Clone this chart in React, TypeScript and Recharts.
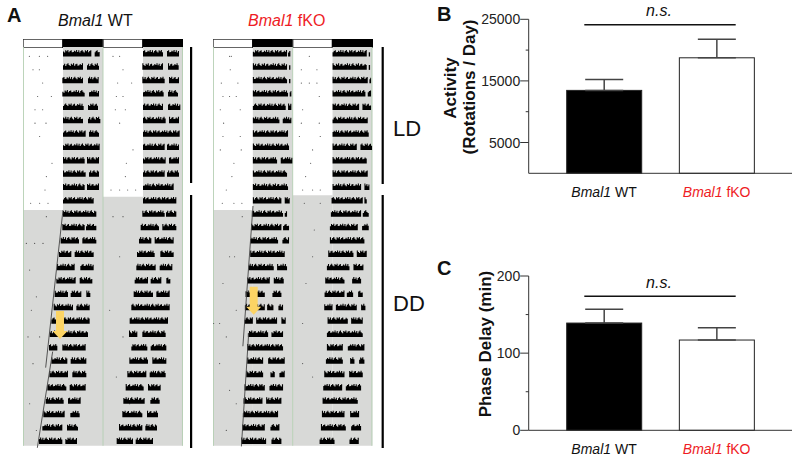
import {
  Bar,
  BarChart,
  ComposedChart,
  ErrorBar,
  ReferenceArea,
  ReferenceDot,
  ReferenceLine,
  XAxis,
  YAxis,
} from "recharts";

const FONT = "'Liberation Sans', Arial, sans-serif";
const RED = "#ee1c25";
const GREY = "#d8d9d7";
const ROWS = 30;
const GREY_END = 29.85;

const genotypes = ["Bmal1 WT", "Bmal1 fKO"];

const activityMeans = [13460, 18750];
const activityErrors = [1780, 3020];
const activityTicks = [5000, 10000, 15000, 20000, 25000];
const activityLabelled = [5000, 15000, 25000];

const delayMeans = [139, 117];
const delayErrors = [18, 16];
const delayTicks = [0, 50, 100, 150, 200];
const delayLabelled = [0, 100, 200];

// one entry per day: on, off, on, off... in hours. The plot is double plotted,
// so a day is drawn in the left half of its row and the right half of the row above
const wtDays = [
  [12, 20.5, 21.5, 23],
  [12, 18, 19.2, 22.8],
  [11.8, 18, 19.5, 22.7],
  [11.8, 18.5, 19.8, 22.8],
  [12, 18.2, 19.5, 22.5],
  [12, 18, 19.5, 23.2],
  [12, 18.8, 19.8, 22.8],
  [12, 23],
  [12, 18.5, 19.2, 22.8],
  [12, 18.8, 19.8, 22.8],
  [12, 18.5, 19.2, 22.8],
  [12, 21.2],
  [12, 22],
  [11.8, 18.5, 18.9, 22],
  [11.3, 16.8, 17.8, 22],
  [10.8, 14.5, 15.5, 21.2],
  [10.2, 15.5, 17.2, 21.2],
  [10, 15.8, 17, 20.8],
  [9.5, 13.5, 14.3, 17.5, 19, 20.2],
  [9.2, 15, 16, 20],
  [8.5, 20],
  [8, 19.5],
  [7.8, 10.3, 11.8, 18.8],
  [8.5, 13.3, 14.3, 19],
  [7.9, 13.5, 14.8, 19],
  [7.3, 13, 14, 18.8],
  [6.8, 12.2, 13.5, 17.3],
  [6.1, 12.5, 14.2, 17],
  [5.8, 11.8, 13.2, 16.5],
  [4.8, 11.8, 12.7, 16.2],
  [4.1, 9, 9.8, 15],
];

const fkoDays = [
  [12, 22.3, 22.6, 23.3],
  [12, 22.3, 22.9, 23.3],
  [12, 22.3, 22.9, 23.3],
  [12, 22.6, 23.1, 23.6],
  [12, 21.9, 22.6, 23.6],
  [12, 20, 21, 23.6],
  [12, 22.6],
  [12, 22.9],
  [12, 19.3, 20.4, 23.9],
  [12, 22.3],
  [12, 22.6],
  [12, 20.6, 21.6, 23.1],
  [11.7, 21.1, 21.6, 22.3],
  [11.5, 20.6, 21.1, 22.9],
  [11.2, 19.6, 20.9, 22.9],
  [11.2, 21.6],
  [10.7, 18.3, 19.3, 22.3],
  [10.3, 17.1, 18.3, 21.3],
  [9.8, 15.6, 17.9, 20.6],
  [9.6, 15.6, 16.3, 18.2, 19.7, 21.1],
  [9.5, 12, 13, 19.3, 20.6, 21.9],
  [10.5, 16.6, 17.6, 21.1],
  [10.3, 21.1],
  [10.3, 15.1, 16.6, 21.6],
  [10, 15.1, 17.3, 18.6, 20, 21.6],
  [9.5, 15.6, 17, 21.1],
  [9.2, 14.9, 16, 20.6],
  [9, 19.6],
  [8.8, 15.6, 17.3, 20],
  [8.5, 16, 17.6, 20.6],
  [8.1, 12.6, 17.1, 19.9],
];

// stray wheel counts: [hour, row]
const wtSpecks = [
  [1.9, 0.7], [4.9, 0.7], [7.4, 0.7], [27, 0.7], [29, 0.7],
  [3, 1.7], [4.9, 1.7], [30, 1.7], [5.9, 2.7], [28.4, 2.7], [32.6, 2.7],
  [4.4, 3.7], [8.5, 3.7], [28, 3.7], [30, 3.7], [3.6, 4.7], [5.9, 4.7], [27.7, 4.7], [30.7, 4.7],
  [3.6, 5.7], [6.9, 5.7], [29, 5.7], [5, 6.7], [33, 7.7], [8.7, 8.7], [31, 8.7],
  [7, 9.7], [30.7, 9.7], [6.6, 10.7], [26.4, 10.7], [29, 10.7], [31.4, 10.7], [33.8, 10.7],
  [2.3, 11.7], [5, 11.7], [7.5, 11.7], [7, 12.7], [27, 12.7], [30, 12.7],
  [1, 14.7], [3.5, 14.7], [6, 14.7], [2, 16.7], [29, 15.7], [4, 18.7], [2.5, 19.7], [26, 19.7],
  [1.5, 21.7], [5, 21.7], [30, 21.7], [3, 23.7], [28, 24.7], [2, 26.7], [32, 26.7], [4, 28.7],
];

const fkoSpecks = [
  [5, 0.7], [5.5, 0.7], [29, 0.7], [5.2, 1.7], [26.6, 1.7], [31.3, 1.7],
  [2.5, 2.7], [7.5, 2.7], [26.6, 2.7], [29, 2.7], [31.3, 2.7], [3, 3.7], [5, 3.7], [7, 3.7], [32, 3.7],
  [2.2, 4.7], [8.2, 4.7], [27, 4.7], [3.2, 5.7], [26.6, 5.7], [32, 5.7],
  [3, 6.7], [8.2, 6.7], [26, 6.7], [32.3, 6.7], [2.2, 7.7], [8.5, 7.7], [30, 7.7],
  [6.3, 8.7], [29.4, 8.7], [5.7, 9.7], [27.9, 9.7], [4, 10.7], [27, 10.7], [30, 10.7], [32.3, 10.7],
  [2.8, 11.7], [6.3, 11.7], [8.7, 11.7], [27.5, 11.7], [32.3, 11.7], [8.8, 12.7], [30.5, 13.7],
  [5, 15.7], [6.5, 15.7], [30, 15.7], [3, 17.7], [28, 17.7], [7, 19.7], [0.2, 20.7], [2, 20.7],
  [27, 20.7], [4, 21.7], [2, 23.7], [27, 23.7], [30, 24.7], [5, 25.7], [7, 26.7], [4, 28.7],
];

// heights of the activity trace, wrapped along each bout
const traceHeights = [0.7, 0.9, 0.75, 1, 0.7, 0.95, 0.6, 0.85, 1, 0.75, 0.6, 0.95, 0.8, 1, 0.65, 0.85, 0.95, 0.65];

const PART_KEYS = Array.from({ length: 12 }, (_, i) => `p${i}`);

function buildRows(days: number[][]) {
  return Array.from({ length: ROWS }, (_, row) => {
    const edges = [...days[row], ...days[row + 1].map((h) => h + 24)];
    const entry: Record<string, number | string> = { row: `r${row}` };
    let last = 0;
    PART_KEYS.forEach((key, i) => {
      const edge = edges[i];
      entry[key] = edge === undefined ? 0 : edge - last;
      if (edge !== undefined) last = edge;
    });
    return entry;
  });
}

const ActivityBout = ({ x, y, width, height }: any) => {
  if (!width || width <= 0) return null;
  const count = Math.max(1, Math.round(width / 1.1));
  const start = Math.round(x * 3 + y * 5);
  let d = `M${x},${y + height}`;
  for (let i = 0; i < count; i++) {
    const h = height * traceHeights[(start + i) % traceHeights.length];
    const px = x + (i * width) / count;
    d += `L${px},${y + height - h}L${px + width / count},${y + height - h}`;
  }
  d += `L${x + width},${y + height}Z`;
  return <path d={d} fill="#000" />;
};

const DownArrow = ({ cx, cy }: any) => (
  <polygon
    points={`${cx - 4},${cy - 22} ${cx + 4},${cy - 22} ${cx + 4},${cy - 2} ${cx + 7.5},${cy - 2} ${cx},${cy + 6} ${cx - 7.5},${cy - 2} ${cx - 4},${cy - 2}`}
    fill="#fcd464"
  />
);

function LightBar({ left, width }: { left: number; width: number }) {
  const data = [{ name: "schedule", a: 12, b: 12, c: 12, d: 12 }];
  return (
    <div style={{ position: "absolute", left, top: 38.5 }}>
      <BarChart
        width={width}
        height={9}
        data={data}
        layout="vertical"
        margin={{ top: 0, right: 0, bottom: 0, left: 0 }}
        barCategoryGap={0}
      >
        <XAxis type="number" domain={[0, 48]} hide />
        <YAxis type="category" dataKey="name" hide />
        <Bar dataKey="a" stackId="s" fill="#fff" stroke="#333" strokeWidth={1.4} isAnimationActive={false} />
        <Bar dataKey="b" stackId="s" fill="#000" stroke="#000" strokeWidth={1.4} isAnimationActive={false} />
        <Bar dataKey="c" stackId="s" fill="#fff" stroke="#333" strokeWidth={1.4} isAnimationActive={false} />
        <Bar dataKey="d" stackId="s" fill="#000" stroke="#000" strokeWidth={1.4} isAnimationActive={false} />
      </BarChart>
    </div>
  );
}

// the hour / row coordinate frame, used for everything that is not an activity bout
function HourFrame({ left, width, children }: any) {
  return (
    <div style={{ position: "absolute", left, top: 47 }}>
      <ComposedChart width={width} height={400.8} data={[{ h: 0, r: 0 }]} margin={{ top: 0, right: 0, bottom: 0, left: 0 }}>
        <XAxis type="number" dataKey="h" domain={[0, 48]} hide allowDataOverflow />
        <YAxis type="number" domain={[0, ROWS]} reversed hide allowDataOverflow />
        {children}
      </ComposedChart>
    </div>
  );
}

interface ActogramProps {
  left: number;
  width: number;
  days: number[][];
  specks: number[][];
  lightsOff: number[];
  fits: number[][][];
  arrow: number[];
}

function Actogram({ left, width, days, specks, lightsOff, fits, arrow }: ActogramProps) {
  return (
    <>
      <HourFrame left={left} width={width}>
        <ReferenceArea x1={0} x2={12} y1={lightsOff[0]} y2={GREY_END} fill={GREY} fillOpacity={1} stroke="none" />
        <ReferenceArea x1={12} x2={24} y1={0} y2={GREY_END} fill={GREY} fillOpacity={1} stroke="none" />
        <ReferenceArea x1={24} x2={36} y1={lightsOff[1]} y2={GREY_END} fill={GREY} fillOpacity={1} stroke="none" />
        <ReferenceArea x1={36} x2={48} y1={0} y2={GREY_END} fill={GREY} fillOpacity={1} stroke="none" />
        {[0.15, 24, 47.85].map((h) => (
          <ReferenceLine
            key={h}
            segment={[{ x: h, y: 0 }, { x: h, y: GREY_END }]}
            stroke="#b4cfb2"
            strokeWidth={0.9}
          />
        ))}
        {specks.map(([h, r]) => (
          <ReferenceDot key={`${h}-${r}`} x={h} y={r} r={0.55} fill="#444" stroke="none" />
        ))}
      </HourFrame>
      <div style={{ position: "absolute", left, top: 47 }}>
        <BarChart
          width={width}
          height={400.8}
          data={buildRows(days)}
          layout="vertical"
          margin={{ top: 0, right: 0, bottom: 0, left: 0 }}
        >
          <XAxis type="number" domain={[0, 48]} hide />
          <YAxis type="category" dataKey="row" hide />
          {PART_KEYS.map((key, i) =>
            i % 2 === 0 ? (
              <Bar key={key} dataKey={key} stackId="day" barSize={6.5} fill="none" isAnimationActive={false} />
            ) : (
              <Bar key={key} dataKey={key} stackId="day" barSize={6.5} shape={ActivityBout} isAnimationActive={false} />
            ),
          )}
        </BarChart>
      </div>
      <HourFrame left={left} width={width}>
        {fits.map((fit) => (
          <ReferenceLine
            key={fit[0][1]}
            segment={[{ x: fit[0][0], y: fit[0][1] }, { x: fit[1][0], y: fit[1][1] }]}
            stroke="#444"
            strokeWidth={0.9}
          />
        ))}
        <ReferenceDot x={arrow[0]} y={arrow[1]} shape={DownArrow} />
      </HourFrame>
    </>
  );
}

const makeValueTick =
  (labelled: number[]) =>
  ({ x, y, payload }: any) => {
    const major = labelled.includes(payload.value);
    return (
      <g>
        <line x1={x - (major ? 8.5 : 3)} x2={x} y1={y} y2={y} stroke="#333" strokeWidth={1} />
        {major && (
          <text x={x - 8.5} y={y + 5} textAnchor="end" fontSize={14} fontFamily={FONT} fill="#222">
            {payload.value}
          </text>
        )}
      </g>
    );
  };

const GenotypeTick = ({ x, y, payload }: any) => {
  const [gene, line] = payload.value.split(" ");
  return (
    <text x={x} y={y + 24} textAnchor="middle" fontSize={14} fontFamily={FONT} fill={line === "WT" ? "#111" : RED}>
      <tspan fontStyle="italic">{gene}</tspan> {line}
    </text>
  );
};

const SummaryRect = ({ x, y, width, height, name }: any) => (
  <rect
    x={x}
    y={y}
    width={width}
    height={height}
    fill={name === genotypes[0] ? "#000" : "#fff"}
    stroke="#222"
    strokeWidth={1}
  />
);

interface SummaryProps {
  top: number;
  height: number;
  marginTop: number;
  marginBottom: number;
  domain: number[];
  ticks: number[];
  labelled: number[];
  means: number[];
  errors: number[];
}

function SummaryBars({ top, height, marginTop, marginBottom, domain, ticks, labelled, means, errors }: SummaryProps) {
  const data = genotypes.map((name, i) => ({ name, mean: means[i], error: [0, errors[i]] }));
  return (
    <div style={{ position: "absolute", left: 470, top }}>
      <BarChart
        width={322}
        height={height}
        data={data}
        margin={{ top: marginTop, right: 0, bottom: 0, left: 0 }}
      >
        <XAxis
          dataKey="name"
          height={marginBottom}
          padding={{ left: 19, right: 19 }}
          tick={GenotypeTick}
          tickLine={false}
          tickSize={0}
          tickMargin={0}
          axisLine={{ stroke: "#333", strokeWidth: 1 }}
          interval={0}
        />
        <YAxis
          type="number"
          domain={domain}
          ticks={ticks}
          width={58.7}
          interval={0}
          tick={makeValueTick(labelled)}
          tickLine={false}
          tickSize={0}
          tickMargin={0}
          axisLine={{ stroke: "#333", strokeWidth: 1 }}
        />
        <Bar dataKey="mean" barSize={75} isAnimationActive={false} shape={SummaryRect}>
          <ErrorBar dataKey="error" width={19} stroke="#444" strokeWidth={1.5} direction="y" isAnimationActive={false} />
        </Bar>
      </BarChart>
    </div>
  );
}

function Annotations() {
  const text = { fontFamily: FONT, fill: "#111" };
  return (
    <svg width={800} height={459} style={{ position: "absolute", left: 0, top: 0, pointerEvents: "none" }}>
      <text x={7} y={21.5} fontSize={20} fontWeight="bold" {...text}>A</text>
      <text x={437} y={21} fontSize={20} fontWeight="bold" {...text}>B</text>
      <text x={437} y={275} fontSize={20} fontWeight="bold" {...text}>C</text>

      <text x={58} y={26} fontSize={16} {...text}>
        <tspan fontStyle="italic">Bmal1</tspan> WT
      </text>
      <text x={248} y={26} fontSize={16} fontFamily={FONT} fill={RED}>
        <tspan fontStyle="italic">Bmal1</tspan> fKO
      </text>

      <rect x={190} y={47} width={2.2} height={136} fill="#000" />
      <rect x={190} y={195} width={2.2} height={253} fill="#000" />
      <rect x={381.6} y={47} width={2.2} height={137} fill="#000" />
      <rect x={381.6} y={195} width={2.2} height={253} fill="#000" />
      <text x={393} y={136} fontSize={22} {...text}>LD</text>
      <text x={393} y={311} fontSize={22} {...text}>DD</text>

      <text x={659} y={16} textAnchor="middle" fontSize={16} fontStyle="italic" {...text}>n.s.</text>
      <line x1={584.3} x2={735.7} y1={24.7} y2={24.7} stroke="#111" strokeWidth={1.5} />
      <text x={659} y={288} textAnchor="middle" fontSize={16} fontStyle="italic" {...text}>n.s.</text>
      <line x1={584.3} x2={735.7} y1={296.3} y2={296.3} stroke="#111" strokeWidth={1.5} />

      <text transform="translate(456 88) rotate(-90)" textAnchor="middle" fontSize={17} fontWeight="bold" {...text}>Activity</text>
      <text transform="translate(475 87) rotate(-90)" textAnchor="middle" fontSize={17} fontWeight="bold" {...text}>(Rotations / Day)</text>
      <text transform="translate(491 344) rotate(-90)" textAnchor="middle" fontSize={17} fontWeight="bold" {...text}>Phase Delay (min)</text>
    </svg>
  );
}

export default function App() {
  return (
    <div style={{ position: "absolute", left: 0, top: 0, width: 800, height: 459, background: "#fff", overflow: "hidden" }}>
      <LightBar left={23} width={160} />
      <LightBar left={213.3} width={159.4} />
      <Actogram
        left={23}
        width={160}
        days={wtDays}
        specks={wtSpecks}
        lightsOff={[12.2, 11.2]}
        fits={[
          [[12, 12.2], [6.8, 24]],
          [[8.9, 22.8], [4.3, 30]],
        ]}
        arrow={[11.1, 21.4]}
      />
      <Actogram
        left={213.3}
        width={159.4}
        days={fkoDays}
        specks={fkoSpecks}
        lightsOff={[12.2, 11.1]}
        fits={[
          [[12.05, 11.9], [9, 22.4]],
          [[10.75, 21.4], [8.55, 29.9]],
        ]}
        arrow={[12.25, 19.6]}
      />
      <SummaryBars
        top={0}
        height={210}
        marginTop={19.3}
        marginBottom={36.7}
        domain={[0, 25000]}
        ticks={activityTicks}
        labelled={activityLabelled}
        means={activityMeans}
        errors={activityErrors}
      />
      <SummaryBars
        top={250}
        height={209}
        marginTop={26}
        marginBottom={28.7}
        domain={[0, 200]}
        ticks={delayTicks}
        labelled={delayLabelled}
        means={delayMeans}
        errors={delayErrors}
      />
      <Annotations />
    </div>
  );
}
